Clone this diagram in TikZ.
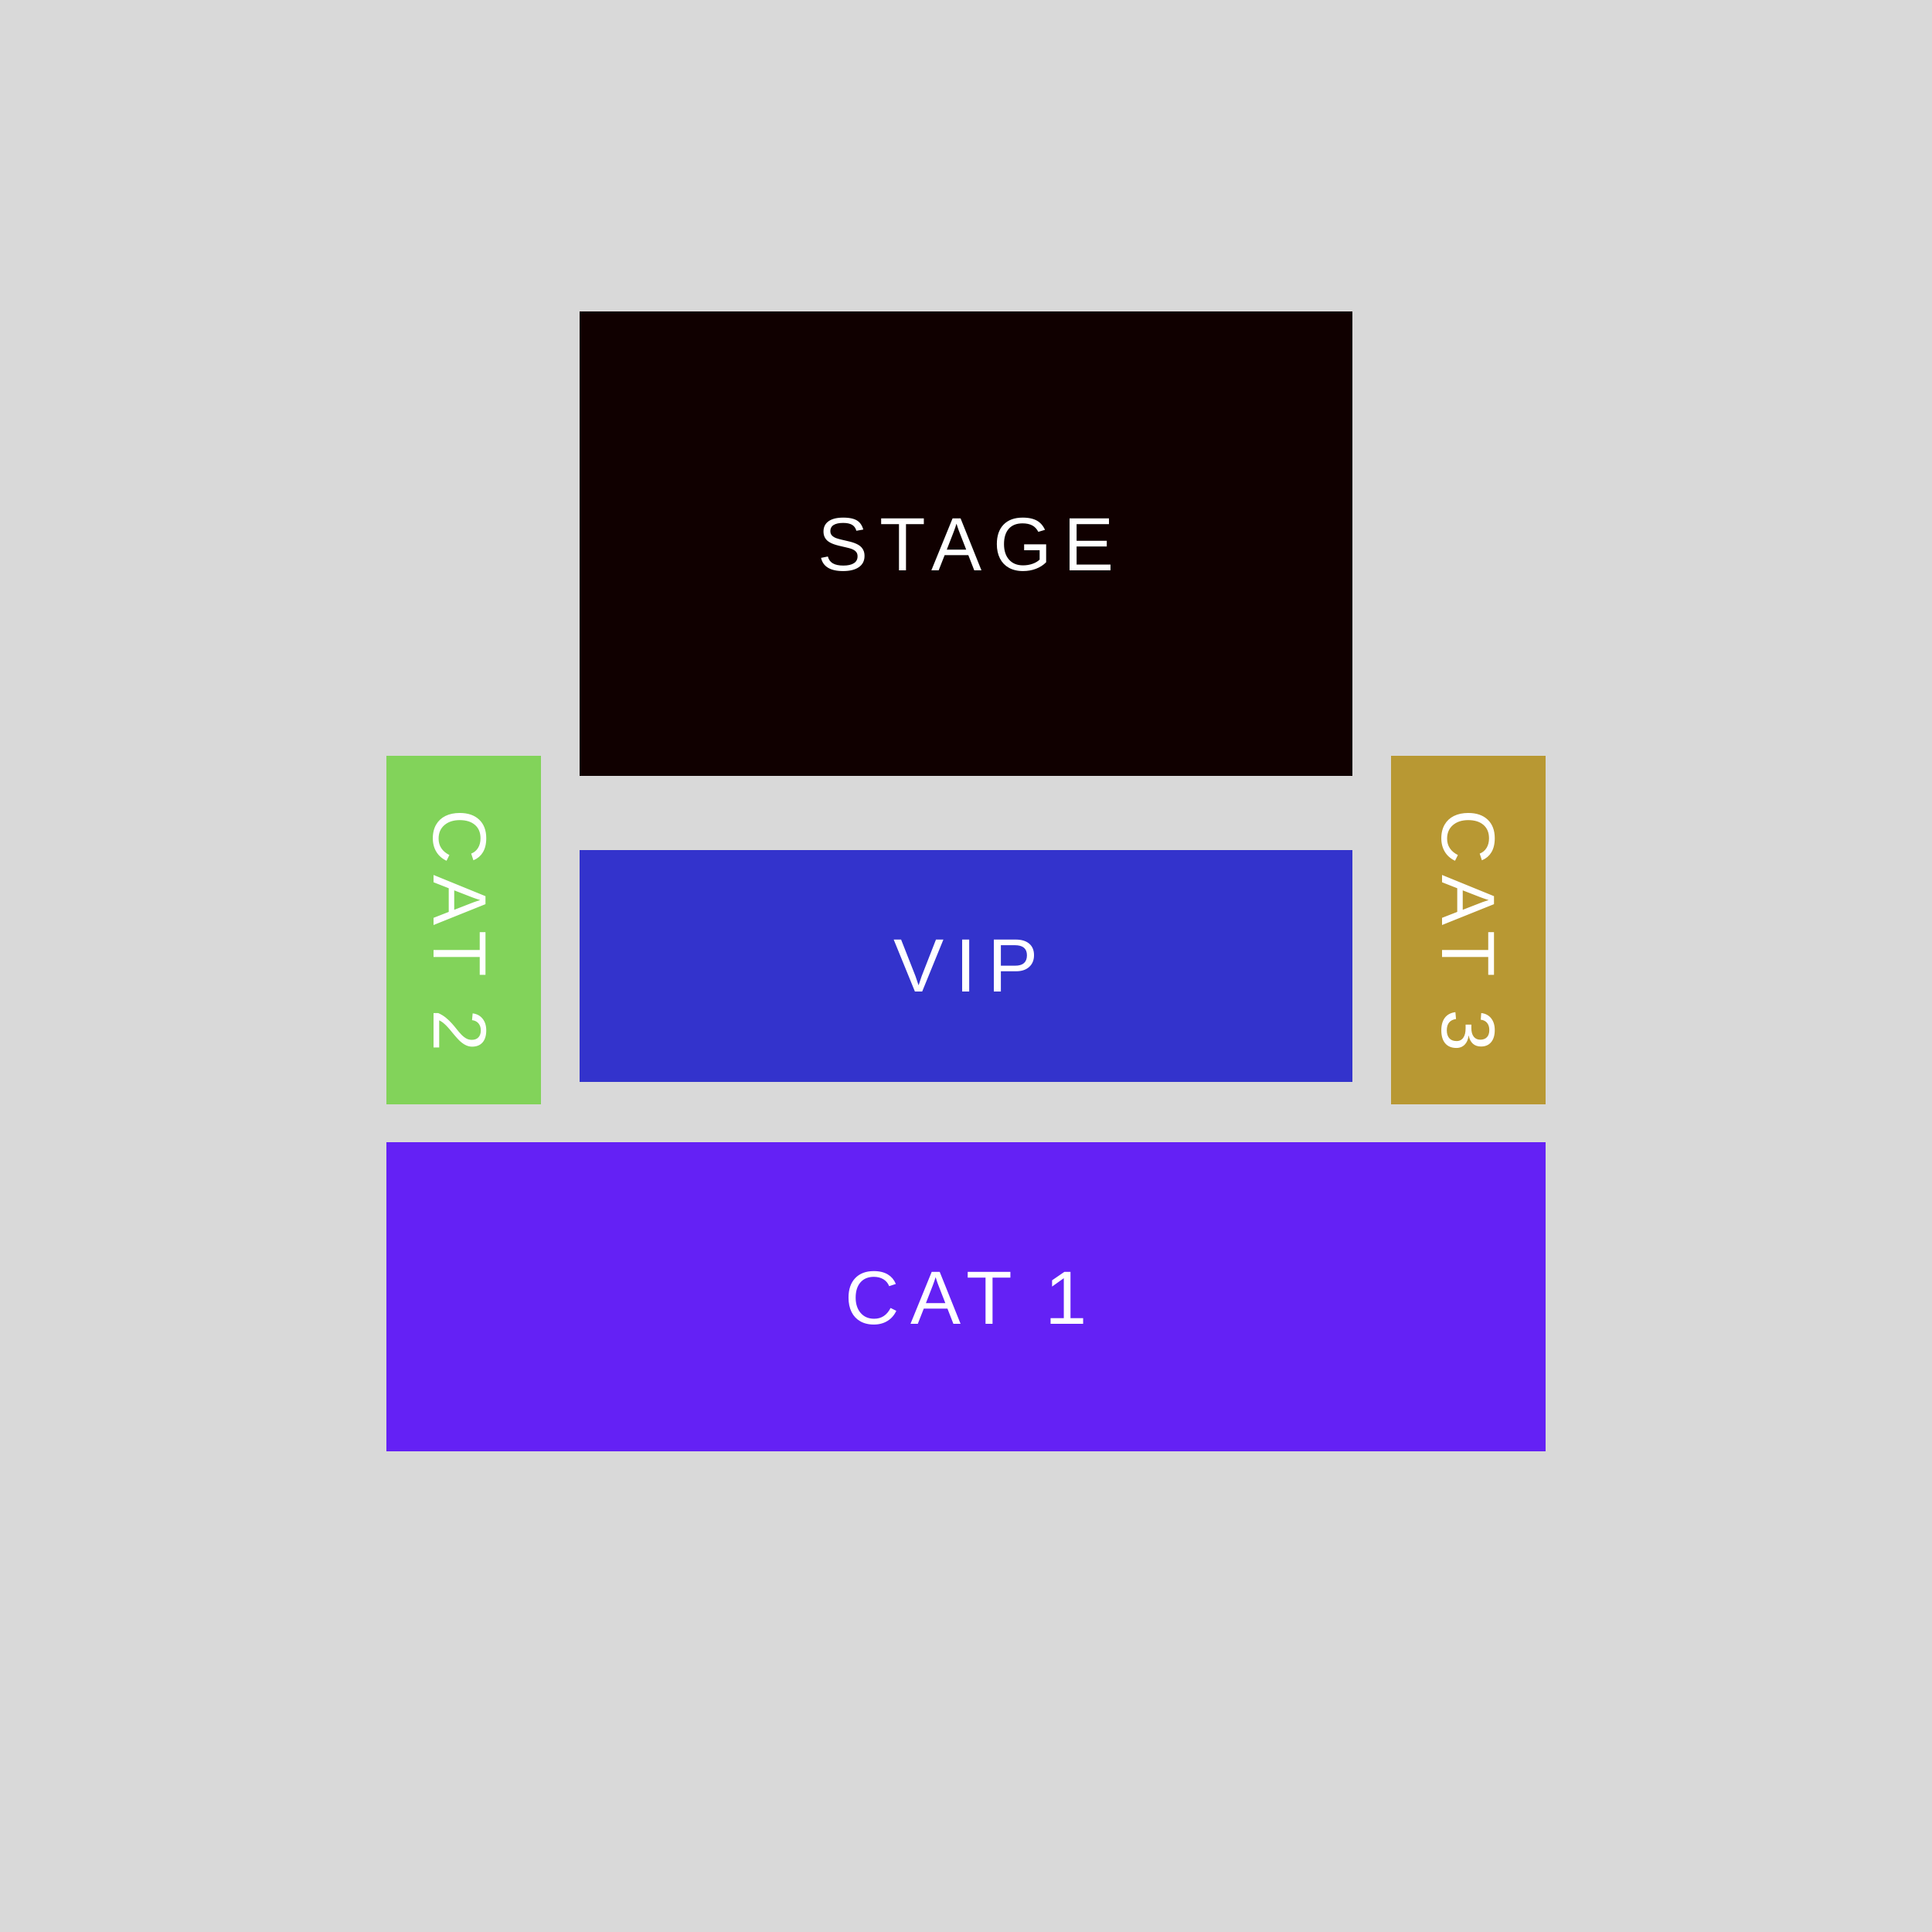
\documentclass[tikz,border=0pt]{standalone}
\usepackage{fontspec}
\newfontfamily\techfont{Liberation Sans}[LetterSpace=15]
\definecolor{bg}{HTML}{D9D9D9}
\definecolor{stagec}{HTML}{100000}
\definecolor{vipc}{HTML}{3333CC}
\definecolor{cattwo}{HTML}{82D35A}
\definecolor{catthree}{HTML}{B89833}
\definecolor{catone}{HTML}{6421F5}
\tikzset{
  zone/.style={fill=#1, draw=none},
  lbl/.style={text=white, font=\techfont\fontsize{27.8}{30}\selectfont, inner sep=0pt}
}
\begin{document}
\begin{tikzpicture}[x=1cm,y=-1cm]
\fill[bg] (0,0) rectangle (25,25);
\useasboundingbox (0,0) rectangle (25,25);
\fill[zone=stagec] (7.5,4.03) rectangle (17.5,10.04);
\fill[zone=vipc] (7.5,11.0) rectangle (17.5,14.0);
\fill[zone=cattwo] (5.0,9.78) rectangle (7.0,14.29);
\fill[zone=catthree] (18.0,9.78) rectangle (20.0,14.29);
\fill[zone=catone] (5.0,14.78) rectangle (20.0,18.78);
\node[lbl] (stage) at (12.5,7.05) {STAGE};
\node[lbl] (vip) at (12.5,12.5) {VIP};
\node[lbl, rotate=-90] (cat2) at (5.95,12.04) {CAT 2};
\node[lbl, rotate=-90] (cat3) at (19.0,12.04) {CAT 3};
\node[lbl] (cat1) at (12.5,16.8) {CAT 1};
\end{tikzpicture}
\end{document}
